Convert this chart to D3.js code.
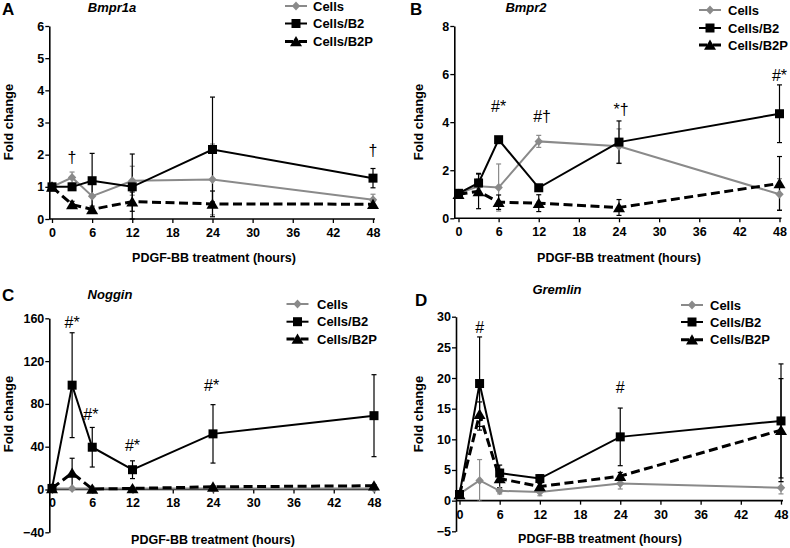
<!DOCTYPE html>
<html><head><meta charset="utf-8">
<script src="https://cdn.jsdelivr.net/npm/d3@7"></script>
<style>
body{margin:0;background:#fff}
svg{display:block}
text{font-family:"Liberation Sans",Arial,sans-serif}
</style>
</head><body>
<svg id="c" width="790" height="548"></svg>
<script>
// ---------- data ----------
const hours = [0, 3, 6, 12, 24, 48];
const xTickValues = [0, 6, 12, 18, 24, 30, 36, 42, 48];
const seriesNames = ["Cells", "Cells/B2", "Cells/B2P"];
const xTitle = "PDGF-BB treatment (hours)";
const yTitle = "Fold change";

// Bmpr1a (A)
const bmpr1aYTicks = [0, 1, 2, 3, 4, 5, 6];
const bmpr1aCells = [1.0, 1.29, 0.71, 1.19, 1.23, 0.6];
const bmpr1aCellsSD = [0.05, 0.17, 0.5, 0.45, 1.1, 0.17];
const bmpr1aB2 = [1.0, 1.0, 1.19, 1.0, 2.16, 1.27];
const bmpr1aB2SD = [0.05, 0.1, 0.85, 1.02, 1.63, 0.3];
const bmpr1aB2P = [1.0, 0.45, 0.3, 0.54, 0.47, 0.46];
const bmpr1aB2PSD = [0.05, 0.1, 0.1, 0.3, 0.4, 0.1];
const bmpr1aNotes = [[3, 1.92, "†"], [48, 2.14, "†"]];

// Bmpr2 (B)
const bmpr2YTicks = [0, 2, 4, 6, 8];
const bmpr2Cells = [1.04, 1.33, 1.28, 3.2, 3.0, 1.0];
const bmpr2CellsSD = [0.05, 0.3, 0.98, 0.25, 0.72, 0.65];
const bmpr2B2 = [1.04, 1.47, 3.27, 1.27, 3.17, 4.35];
const bmpr2B2SD = [0.05, 0.4, 0.1, 0.1, 0.88, 1.2];
const bmpr2B2P = [1.0, 1.12, 0.67, 0.63, 0.45, 1.45];
const bmpr2B2PSD = [0.05, 0.72, 0.3, 0.35, 0.33, 1.12];
const bmpr2Notes = [[6, 4.65, "#*"], [12.5, 4.23, "#†"], [24.3, 4.51, "*†"], [48, 5.93, "#*"]];

// Noggin (C)
const nogginYTicks = [-40, 0, 40, 80, 120, 160];
const nogginCells = [1, 1, 1, 1, 1, 1];
const nogginCellsSD = [0.3, 0.5, 0.3, 0.3, 0.3, 0.3];
const nogginB2 = [1, 97.5, 39.5, 18.5, 52, 69];
const nogginB2SD = [0.5, 49, 18.5, 8.3, 27.3, 38.3];
const nogginB2P = [1, 15.5, 0.5, 1, 2.5, 3.5];
const nogginB2PSD = [0.5, 13.7, 0.5, 0.5, 1, 1];
const nogginNotes = [[3, 156, "#*"], [5.8, 70.4, "#*"], [12, 40.7, "#*"], [23.8, 96.8, "#*"]];

// Gremlin (D)
const gremlinYTicks = [-5, 0, 5, 10, 15, 20, 25, 30];
const gremlinCells = [1.1, 3.3, 1.6, 1.4, 2.8, 2.1];
const gremlinCellsSD = [0.2, 3.4, 0.5, 0.6, 0.9, 1.0];
const gremlinB2 = [1.0, 19.1, 4.5, 3.6, 10.4, 13.0];
const gremlinB2SD = [0.2, 7.6, 1.3, 0.6, 4.7, 9.3];
const gremlinB2P = [1.0, 14.1, 3.6, 2.3, 4.0, 11.5];
const gremlinB2PSD = [0.2, 2.0, 1.5, 0.5, 0.6, 8.4];
const gremlinNotes = [[3, 28.2, "#"], [24, 18.5, "#"]];

// ---------- layout ----------
const panels = [
  { letter: "A", gene: "Bmpr1a", yTicks: bmpr1aYTicks,
    series: [[bmpr1aCells, bmpr1aCellsSD], [bmpr1aB2, bmpr1aB2SD], [bmpr1aB2P, bmpr1aB2PSD]],
    notes: bmpr1aNotes,
    xRange: [52, 373], yRange: [219, 26], axisX: 49.3,
    letterPos: [2, 15], genePos: [112, 12], legend: { mx: 296, tx: 313, ys: [6, 23.5, 41.5] },
    yTitlePos: [8.5, 122], xTitlePos: [214, 262] },
  { letter: "B", gene: "Bmpr2", yTicks: bmpr2YTicks,
    series: [[bmpr2Cells, bmpr2CellsSD], [bmpr2B2, bmpr2B2SD], [bmpr2B2P, bmpr2B2PSD]],
    notes: bmpr2Notes,
    xRange: [458.5, 779.5], yRange: [218.3, 26], axisX: 454.3,
    letterPos: [410, 15], genePos: [526, 12], legend: { mx: 710, tx: 728, ys: [10, 28, 45] },
    yTitlePos: [418, 122], xTitlePos: [619, 262] },
  { letter: "C", gene: "Noggin", yTicks: nogginYTicks,
    series: [[nogginCells, nogginCellsSD], [nogginB2, nogginB2SD], [nogginB2P, nogginB2PSD]],
    notes: nogginNotes,
    xRange: [52, 374], yRange: [532.3, 318.3], axisX: 49.3,
    letterPos: [2, 301], genePos: [110, 299], legend: { mx: 297.5, tx: 317, ys: [304, 321.7, 339] },
    yTitlePos: [8.5, 414], xTitlePos: [213, 544] },
  { letter: "D", gene: "Gremlin", yTicks: gremlinYTicks,
    series: [[gremlinCells, gremlinCellsSD], [gremlinB2, gremlinB2SD], [gremlinB2P, gremlinB2PSD]],
    notes: gremlinNotes,
    xRange: [459.5, 781], yRange: [531.3, 316.7], axisX: 456,
    letterPos: [415, 306], genePos: [557, 294], legend: { mx: 692, tx: 710, ys: [305, 322, 339.7] },
    yTitlePos: [418, 414], xTitlePos: [600, 543] }
];

const gray = "#8a8a8a";
const styles = [
  { color: gray, width: 2, dash: null, marker: "diamond", errColor: gray },
  { color: "#000", width: 2, dash: null, marker: "square", errColor: "#000" },
  { color: "#000", width: 3, dash: "9,4.5", marker: "triangle", errColor: "#000" }
];

function markerPath(type, cx, cy) {
  if (type === "diamond") {
    return `M${cx},${cy-4.5}L${cx+4.2},${cy}L${cx},${cy+4.5}L${cx-4.2},${cy}Z`;
  } else if (type === "square") {
    return `M${cx-4.5},${cy-4.5}H${cx+4.5}V${cy+4.5}H${cx-4.5}Z`;
  } else {
    return `M${cx},${cy-5.5}L${cx+6},${cy+4.8}H${cx-6}Z`;
  }
}

const svg = d3.select("#c");

function drawPanel(p) {
  const x = d3.scaleLinear().domain([0, 48]).range(p.xRange);
  const y = d3.scaleLinear().domain(d3.extent(p.yTicks)).range(p.yRange);
  const g = svg.append("g");
  const y0 = y(0);

  // y axis
  const ya = g.append("g").attr("transform", `translate(${p.axisX},0)`)
    .call(d3.axisLeft(y).tickValues(p.yTicks).tickSize(4).tickSizeOuter(0).tickPadding(1).tickFormat(d3.format("d")));
  ya.select(".domain").attr("stroke-width", 1.6);
  ya.selectAll(".tick line").attr("stroke-width", 1.3);
  ya.selectAll(".tick text").attr("font-family", "Liberation Sans, Arial, sans-serif")
    .attr("font-size", 12.5).attr("font-weight", "bold").attr("fill", "#000");

  // x axis
  const xa = g.append("g").attr("transform", `translate(0,${y0})`)
    .call(d3.axisBottom(x).tickValues(xTickValues).tickSize(4).tickSizeOuter(0).tickPadding(5));
  xa.select(".domain").remove();
  xa.selectAll(".tick line").attr("stroke-width", 1.3);
  xa.selectAll(".tick text").attr("font-family", "Liberation Sans, Arial, sans-serif")
    .attr("font-size", 12.5).attr("font-weight", "bold").attr("fill", "#000");
  g.append("line").attr("x1", p.axisX).attr("x2", x(48) + 2).attr("y1", y0).attr("y2", y0)
    .attr("stroke", "#000").attr("stroke-width", 1.6);

  const [ymin, ymax] = d3.extent(p.yTicks);
  // series
  p.series.forEach(([vals, sds], si) => {
    const st = styles[si];
    const eg = g.append("g").attr("stroke", st.errColor).attr("stroke-width", 1.2);
    hours.forEach((h, i) => {
      const lo = Math.max(ymin, vals[i] - sds[i]);
      const hi = Math.min(ymax, vals[i] + sds[i]);
      const cx = x(h);
      eg.append("line").attr("x1", cx).attr("x2", cx).attr("y1", y(lo)).attr("y2", y(hi));
      eg.append("line").attr("x1", cx - 2.5).attr("x2", cx + 2.5).attr("y1", y(hi)).attr("y2", y(hi));
      eg.append("line").attr("x1", cx - 2.5).attr("x2", cx + 2.5).attr("y1", y(lo)).attr("y2", y(lo));
    });
  });
  p.series.forEach(([vals], si) => {
    const st = styles[si];
    const line = d3.line().x((d, i) => x(hours[i])).y(d => y(d));
    g.append("path").attr("d", line(vals)).attr("fill", "none")
      .attr("stroke", st.color).attr("stroke-width", st.width)
      .attr("stroke-dasharray", st.dash);
    g.append("g").selectAll("path").data(vals).join("path")
      .attr("d", (d, i) => markerPath(st.marker, x(hours[i]), y(d)))
      .attr("fill", st.color);
  });

  // annotations
  g.append("g").selectAll("text").data(p.notes).join("text")
    .attr("x", d => x(d[0])).attr("y", d => y(d[1]))
    .attr("text-anchor", "middle").attr("dominant-baseline", "central")
    .attr("font-family", "Liberation Serif, Times New Roman, serif")
    .attr("font-size", 16).attr("fill", "#000").text(d => d[2]);

  // titles
  g.append("text").attr("x", p.letterPos[0]).attr("y", p.letterPos[1])
    .attr("font-size", 17).attr("font-weight", "bold").text(p.letter);
  g.append("text").attr("x", p.genePos[0]).attr("y", p.genePos[1])
    .attr("text-anchor", "middle").attr("font-size", 13).attr("font-weight", "bold")
    .attr("font-style", "italic").text(p.gene);
  g.append("text").attr("transform", `translate(${p.yTitlePos[0]},${p.yTitlePos[1]}) rotate(-90)`)
    .attr("text-anchor", "middle").attr("dominant-baseline", "central")
    .attr("font-size", 13).attr("font-weight", "bold").text(yTitle);
  g.append("text").attr("x", p.xTitlePos[0]).attr("y", p.xTitlePos[1])
    .attr("text-anchor", "middle").attr("font-size", 12.5).attr("font-weight", "bold").text(xTitle);

  // legend
  const lg = g.append("g");
  seriesNames.forEach((name, si) => {
    const st = styles[si];
    const ly = p.legend.ys[si];
    lg.append("line").attr("x1", p.legend.mx - 11).attr("x2", p.legend.mx + 11)
      .attr("y1", ly).attr("y2", ly).attr("stroke", st.color).attr("stroke-width", st.width)
      .attr("stroke-dasharray", st.dash ? "8,6" : null);
    lg.append("path").attr("d", markerPath(st.marker, p.legend.mx, ly)).attr("fill", st.color);
    lg.append("text").attr("x", p.legend.tx).attr("y", ly).attr("dominant-baseline", "central")
      .attr("font-size", 13).attr("font-weight", "bold").text(name);
  });
}

panels.forEach(drawPanel);
</script>
</body></html>
